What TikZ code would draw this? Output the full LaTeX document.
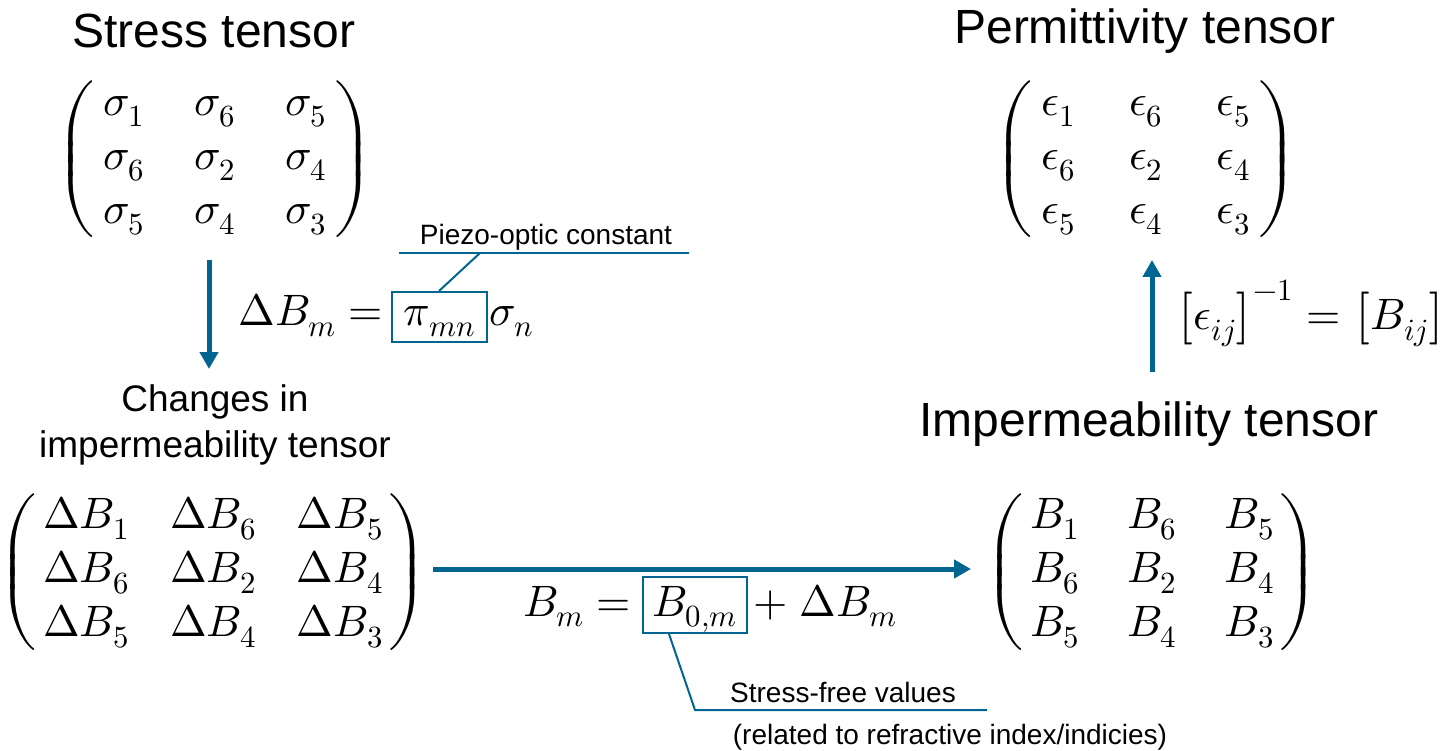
\documentclass[tikz,border=0pt]{standalone}
\usepackage{unicode-math}
\setmathfont{Latin Modern Math}
\newfontfamily\arial{Liberation Sans}
\usetikzlibrary{arrows.meta}
\definecolor{accent}{RGB}{0,101,145}
\tikzset{
  title/.style={font=\arial\fontsize{48}{56}\selectfont, inner sep=0pt},
  subtitle/.style={font=\arial\fontsize{37}{44}\selectfont, inner sep=0pt},
  note/.style={font=\arial\fontsize{28}{33}\selectfont, inner sep=0pt},
  mat/.style={inner sep=0pt, font=\fontsize{44}{54}\selectfont},
  eq/.style={inner sep=0pt, font=\fontsize{44}{53}\selectfont},
  flow/.style={draw=accent, line width=5pt, -{Triangle[length=17pt,width=18pt]}},
  leader/.style={draw=accent, line width=2pt},
  markbox/.style={draw=accent, line width=2pt, inner sep=0pt}
}
\begin{document}
\begin{tikzpicture}[x=1pt,y=-1pt]
\useasboundingbox (0,0) rectangle (1443,751);
% titles
\node[title] (tS) at (214,31) {Stress tensor};
\node[title] (tP) at (1145,31) {Permittivity tensor};
\node[title] (tI) at (1149,424) {Impermeability tensor};
\node[subtitle, align=center] (tC) at (215,425) {Changes in\\[2pt]impermeability tensor};
% matrices
\node[mat] (mS) at (215,159) {\setlength{\arraycolsep}{25pt}$\left(\begin{array}{@{\hspace{8pt}}ccc@{\hspace{8pt}}}\sigma_1&\sigma_6&\sigma_5\\ \sigma_6&\sigma_2&\sigma_4\\ \sigma_5&\sigma_4&\sigma_3\end{array}\right)$};
\node[mat] (mE) at (1146,159) {\setlength{\arraycolsep}{27pt}$\left(\begin{array}{@{\hspace{8pt}}ccc@{\hspace{8pt}}}\epsilon_1&\epsilon_6&\epsilon_5\\ \epsilon_6&\epsilon_2&\epsilon_4\\ \epsilon_5&\epsilon_4&\epsilon_3\end{array}\right)$};
\node[mat] (mD) at (213,572) {\setlength{\arraycolsep}{20.5pt}$\left(\begin{array}{@{\hspace{6pt}}ccc@{\hspace{6pt}}}\Delta B_1&\Delta B_6&\Delta B_5\\ \Delta B_6&\Delta B_2&\Delta B_4\\ \Delta B_5&\Delta B_4&\Delta B_3\end{array}\right)$};
\node[mat] (mB) at (1152,572) {\setlength{\arraycolsep}{24pt}$\left(\begin{array}{@{\hspace{6pt}}ccc@{\hspace{6pt}}}B_1&B_6&B_5\\ B_6&B_2&B_4\\ B_5&B_4&B_3\end{array}\right)$};
% equation 1
\node[markbox, minimum width=95pt, minimum height=50pt] (e1box) at (439.5,317) {};
\node[eq, anchor=base east] (e1a) at (383,326) {$\Delta B_m =$};
\node[eq, anchor=base] (e1b) at (e1box.center |- 0,326) {$\pi_{mn}$};
\node[eq, anchor=base west] (e1c) at (489,326) {$\sigma_n$};
% equation 2
\node[markbox, minimum width=104pt, minimum height=56pt] (e2box) at (695,605) {};
\node[eq, anchor=base east] (e2a) at (631,616) {$B_m =$};
\node[eq, anchor=base] (e2b) at (e2box.center |- 0,616) {$B_{0,m}$};
\node[eq, anchor=base west] (e2c) at (753,616) {$+\;\Delta B_m$};
% equation 3
\node[eq, anchor=base] (e3) at (1311,330) {$\left[\epsilon_{ij}\right]^{-1} = \left[B_{ij}\right]$};
% flow arrows
\coordinate (a1s) at (209,260);
\coordinate (a1e) at (209,369);
\coordinate (a2s) at (433,569);
\coordinate (a2e) at (971,569);
\coordinate (a3s) at (1152,372);
\coordinate (a3e) at (1152,260);
\draw[flow] (a1s) -- (a1e);
\draw[flow] (a2s) -- (a2e);
\draw[flow] (a3s) -- (a3e);
% notes
\node[note] (nP) at (546,237) {Piezo-optic constant};
\coordinate (uPl) at (399,253);
\coordinate (uPr) at (689,253);
\coordinate (uPk) at (480,253);
\draw[leader] (uPl) -- (uPr);
\draw[leader] (uPk) -- (e1box.north -| 439,0);
\node[note] (nS) at (843,692) {Stress-free values};
\node[note] (nR) at (950,737) {(related to refractive index/indicies)};
\coordinate (uSk) at (695,710);
\coordinate (uSr) at (987,710);
\draw[leader] (e2box.south -| 669,0) -- (uSk) -- (uSr);
\end{tikzpicture}
\end{document}
